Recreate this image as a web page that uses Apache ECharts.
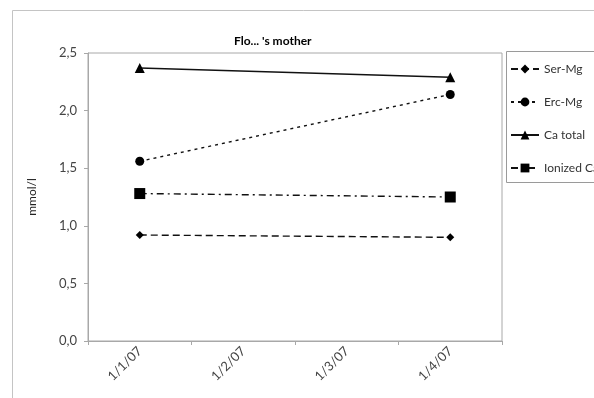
<!DOCTYPE html>
<html>
<head>
<meta charset="utf-8">
<script src="https://cdn.jsdelivr.net/npm/echarts@6/dist/echarts.min.js"></script>
<style>
  html, body { margin: 0; padding: 0; background: #fff; }
  #chart { width: 594px; height: 398px; }
</style>
</head>
<body>
<div id="chart"></div>
<script>
// data
var categories = ['1/1/07', '1/2/07', '1/3/07', '1/4/07'];
var serMg = [0.92, null, null, 0.90];
var ercMg = [1.56, null, null, 2.14];
var caTotal = [2.37, null, null, 2.29];
var ionizedCa = [1.28, null, null, 1.25];
var yTicks = { min: 0, max: 2.5, interval: 0.5 };

var font = 'Lato, "Open Sans", sans-serif';
var chart = echarts.init(document.getElementById('chart'));

function mkSeries(name, data, symbol, size, dash) {
  return {
    name: name,
    type: 'line',
    data: data,
    connectNulls: true,
    symbol: symbol,
    symbolSize: size,
    showAllSymbol: true,
    itemStyle: { color: '#000' },
    lineStyle: { color: '#111', width: 1.4, type: dash },
    emphasis: { disabled: true }
  };
}

var option = {
  animation: false,
  backgroundColor: '#fff',
  textStyle: { fontFamily: font },
  title: {
    text: "Flo... 's mother",
    left: 229,
    top: 30,
    textStyle: { fontSize: 12, fontWeight: 'bold', color: '#000', fontFamily: font }
  },
  graphic: [
    // outer chart frame
    { type: 'rect', z: -10, shape: { x: 12.5, y: 10.5, width: 620, height: 420 },
      style: { fill: 'none', stroke: '#c4c4c4', lineWidth: 1 } },
    // legend frame
    { type: 'rect', z: -5, shape: { x: 506.5, y: 51.5, width: 120, height: 131 },
      style: { fill: 'none', stroke: '#9a9a9a', lineWidth: 1 } }
  ],
  legend: {
    orient: 'vertical',
    left: 505,
    top: 58,
    itemWidth: 28,
    itemHeight: 11,
    itemGap: 21,
    textStyle: { fontSize: 12, color: '#333', fontFamily: font },
    data: ['Ser-Mg', 'Erc-Mg', 'Ca total', 'Ionized Ca']
  },
  grid: {
    left: 88, top: 53, right: 92, bottom: 57,
    show: true, borderColor: '#a8a8a8', borderWidth: 1
  },
  xAxis: {
    type: 'category',
    data: categories,
    boundaryGap: true,
    axisLine: { lineStyle: { color: '#a8a8a8' } },
    axisTick: { show: true, length: 4, lineStyle: { color: '#a8a8a8' } },
    axisLabel: { rotate: 45, fontSize: 13, color: '#444', margin: 8, fontFamily: font },
    splitLine: { show: false }
  },
  yAxis: {
    type: 'value',
    min: yTicks.min,
    max: yTicks.max,
    interval: yTicks.interval,
    name: 'mmol/l',
    nameLocation: 'middle',
    nameGap: 50,
    nameTextStyle: { fontSize: 12, color: '#222', fontFamily: font },
    axisLine: { show: true, lineStyle: { color: '#a8a8a8' } },
    axisTick: { show: true, length: 4, lineStyle: { color: '#a8a8a8' } },
    axisLabel: {
      fontSize: 13, color: '#444', margin: 11, fontFamily: font,
      formatter: function (v) { return v.toFixed(1).replace('.', ','); }
    },
    splitLine: { show: false }
  },
  series: [
    mkSeries('Ser-Mg', serMg, 'diamond', 8, [7, 4]),
    mkSeries('Erc-Mg', ercMg, 'circle', 9, [3, 4]),
    mkSeries('Ca total', caTotal, 'triangle', 10, 'solid'),
    mkSeries('Ionized Ca', ionizedCa, 'rect', 11, [7, 4, 2, 4])
  ]
};

chart.setOption(option);
</script>
</body>
</html>
